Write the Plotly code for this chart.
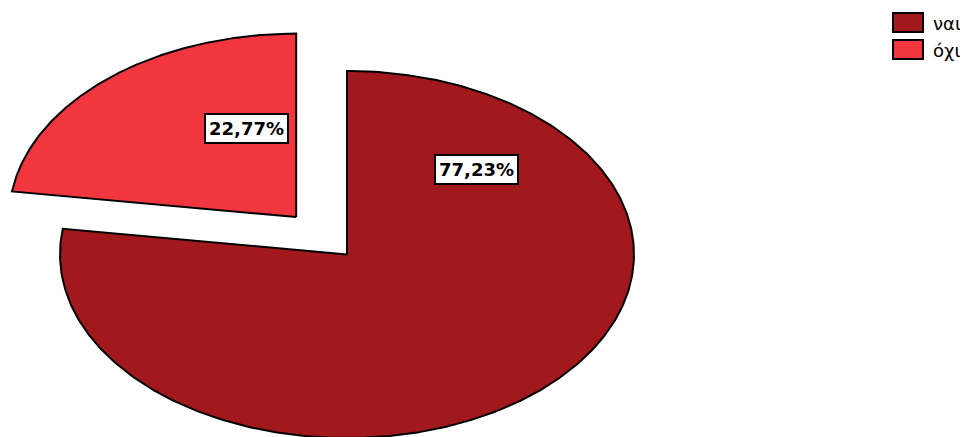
import numpy as np
import plotly.graph_objects as go

# ---- data ----
categories = ["ναι", "όχι"]
percentages = [77.23, 22.77]

# ---- style ----
colors = ["#A1181D", "#F2363F"]
pulls = [0.0, 0.27]
OFF = 8                     # default page body margin
W, H = 968 - OFF, 437 - OFF
CX, CY = 347.0 - OFF, 254.5 - OFF   # pie centre in figure pixels
A, B = 287.0, 183.5                 # ellipse semi-axes in pixels

fig = go.Figure()
total = sum(percentages)
start = 0.0
label_xy = {"ναι": (476 - OFF, 169 - OFF), "όχι": (246 - OFF, 128 - OFF)}

for cat, val, col, pull in zip(categories, percentages, colors, pulls):
    span = val / total * 2 * np.pi
    t = np.linspace(start, start + span, 400)
    mid = start + span / 2
    ox, oy = pull * np.sin(mid), pull * np.cos(mid)
    xs = np.concatenate([[0], np.sin(t), [0]]) + ox
    ys = np.concatenate([[0], np.cos(t), [0]]) + oy
    fig.add_trace(go.Scatter(
        x=xs, y=ys, mode="lines", fill="toself", fillcolor=col,
        line=dict(color="black", width=2), name=cat, showlegend=False,
        hoverinfo="skip"))
    lx, ly = label_xy[cat]
    fig.add_annotation(
        x=(lx - CX) / A, y=(CY - ly) / B, xref="x", yref="y",
        text=f"{val:.2f}%".replace(".", ","), showarrow=False,
        font=dict(family="DejaVu Sans", size=18, color="black", weight="bold"),
        bgcolor="white", bordercolor="black", borderwidth=2, borderpad=3)
    start += span

# ---- legend ----
leg_top = [13 - OFF, 40 - OFF]
for i, (cat, col) in enumerate(zip(categories, colors)):
    y0 = leg_top[i]
    fig.add_shape(type="rect", xref="paper", yref="paper",
                  x0=(893 - OFF) / W, x1=(923 - OFF) / W,
                  y0=1 - (y0 + 19) / H, y1=1 - y0 / H,
                  fillcolor=col, line=dict(color="black", width=2))
    fig.add_annotation(x=(931 - OFF) / W, y=1 - (y0 + 10) / H, xref="paper", yref="paper",
                       xanchor="left", yanchor="middle", text=cat, showarrow=False,
                       font=dict(family="DejaVu Sans", size=18, color="black"))

fig.update_layout(
    width=W, height=H, margin=dict(l=0, r=0, t=0, b=0),
    paper_bgcolor="white", plot_bgcolor="white", showlegend=False,
    xaxis=dict(range=[-CX / A, (W - CX) / A], visible=False, fixedrange=True),
    yaxis=dict(range=[(CY - H) / B, CY / B], visible=False, fixedrange=True),
)

fig.write_html("out.html")
